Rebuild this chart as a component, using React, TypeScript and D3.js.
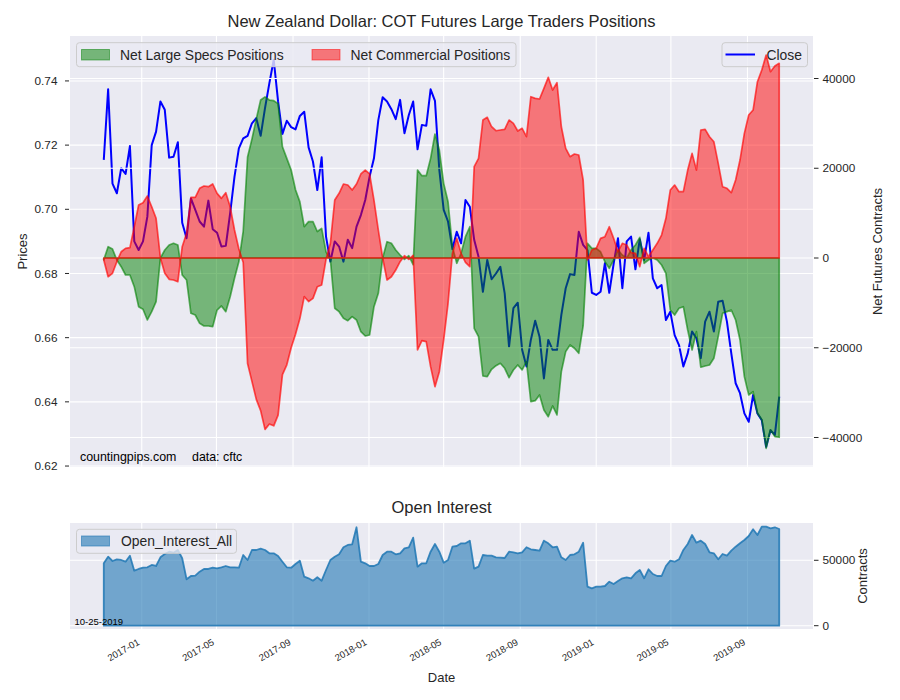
import React from "react";
import * as d3 from "d3";

// ---------- DATA ----------
const START_DATE = new Date(2016, 10, 1); // weekly COT report dates (Tuesdays)
const RELEASE_LABEL = "10-25-2019";

const closePrices = [
  0.7154, 0.7374, 0.708, 0.705, 0.7128, 0.711, 0.7197, 0.69, 0.6873, 0.69,
  0.6977, 0.72, 0.7242, 0.7336, 0.731, 0.7161, 0.7164, 0.7209, 0.6958, 0.691,
  0.7034, 0.6998, 0.6962, 0.6946, 0.7027, 0.6938, 0.6927, 0.6884, 0.6886, 0.6988,
  0.7102, 0.719, 0.7221, 0.7229, 0.7268, 0.7284, 0.7229, 0.7315, 0.7393, 0.7466,
  0.7336, 0.7235, 0.7276, 0.7256, 0.7249, 0.7291, 0.7304, 0.7193, 0.7149, 0.706,
  0.7162, 0.6915, 0.6837, 0.69, 0.6884, 0.6837, 0.6905, 0.6879, 0.6946, 0.6982,
  0.7029, 0.7102, 0.7159, 0.7278, 0.7349, 0.7336, 0.7312, 0.7281, 0.7341, 0.7237,
  0.7294, 0.7336, 0.7187, 0.7263, 0.726, 0.7374, 0.7338, 0.7123, 0.6998, 0.6962,
  0.6876, 0.693, 0.6894, 0.7029, 0.7008, 0.6905, 0.6852, 0.6743, 0.6842, 0.6782,
  0.68, 0.6821, 0.6738, 0.6572, 0.6692, 0.6709, 0.6562, 0.651, 0.6593, 0.6653,
  0.6603, 0.6473, 0.6593, 0.6562, 0.6562, 0.6671, 0.6754, 0.6798, 0.6795, 0.693,
  0.6889, 0.6873, 0.674, 0.6733, 0.6743, 0.6832, 0.674, 0.683, 0.691, 0.6754,
  0.69, 0.6915, 0.6813, 0.6907, 0.6842, 0.6927, 0.6785, 0.6754, 0.6764, 0.6655,
  0.6681, 0.6608, 0.6577, 0.651, 0.6551, 0.6619, 0.6598, 0.6536, 0.665, 0.6681,
  0.6619, 0.6712, 0.6715, 0.665, 0.6551, 0.6458, 0.6427, 0.6364, 0.6338, 0.6421,
  0.6364, 0.6343, 0.626, 0.6312, 0.6297, 0.6416,
];

const netLargeSpecs = [
  -400, 2520, 2000, -450, -1930, -3790, -3790, -6390, -10850, -11430,
  -13810, -11960, -9740, 0, 1780, 2900, 3270, 2900, -3800, -4900,
  -12320, -12700, -14550, -15150, -15150, -15300, -11590, -10690, -11960, -8620,
  -4520, -800, 6000, 22500, 26500, 31000, 35200, 35900, 35200, 35050,
  34400, 24800, 22200, 19600, 15200, 12500, 7000, 8100, 8100, 5900,
  6600, 1400, -300, -11200, -11960, -13440, -13960, -13070, -13810, -16420,
  -17380, -17150, -10850, -7870, 0, 3630, 3270, 1780, 670, -300,
  500, -1500, 19600, 18340, 18340, 22210, 27630, 24060, 16640, 12540,
  2520, -1180, 1050, 4750, 6970, -15660, -17530, -26290, -26440, -24800,
  -24000, -23460, -24580, -26660, -24950, -23840, -24950, -23100, -32020, -31790,
  -30520, -33870, -35360, -32970, -34980, -25330, -20870, -19380, -20120, -21230,
  -15150, 3270, 2160, 2160, 1400, -820, -2300, -450, 1780, 670,
  0, 1780, 2900, 4600, -1180, -450, 0, -450, -1560, -3410,
  -11590, -12700, -11210, -10850, -16040, -20500, -16420, -24350, -24060, -23840,
  -22350, -17530, -12320, -11960, -11590, -13810, -18270, -26440, -30520, -29780,
  -34610, -36100, -42410, -38320, -39810, -39950,
];

const netCommercial = [
  -445, -4170, -3410, -820, 1400, 2160, 2300, 6970, 11810, 12320,
  13810, 11430, 8850, 0, -3410, -4750, -4900, -5280, 2520, 5500,
  13520, 13520, 15530, 16040, 15890, 16490, 14410, 13300, 14550, 11430,
  6240, 2000, -1000, -23500, -27500, -31500, -34000, -38200, -37000, -37400,
  -35000, -26000, -23800, -20000, -17000, -13500, -8600, -9700, -9000, -6400,
  -6000, -300, 3270, 12920, 14410, 16490, 16260, 15150, 16490, 18720,
  19600, 18720, 12920, 6240, 0, -4900, -4170, -2670, -820, 500,
  -300, 600, -20500, -18420, -18650, -24210, -28670, -25330, -18270, -10090,
  1000, 4380, 1050, -1000, -1930, 20340, 22210, 30750, 31350, 29250,
  28360, 28520, 28670, 30750, 30010, 28300, 28900, 27030, 35940, 35580,
  35430, 37810, 40260, 37430, 39060, 29250, 24440, 22570, 23170, 22950,
  17380, -445, 1780, 2160, 4380, 4750, 6970, 4380, 1400, 3270,
  2900, 1180, 1050, -1930, 2160, 300, 1780, 3270, 5120, 8850,
  15150, 16260, 14780, 14780, 19600, 23320, 19600, 28520, 28670, 27030,
  25920, 21100, 15890, 15530, 14550, 17380, 21830, 27780, 31860, 32970,
  39280, 41890, 45230, 41510, 42780, 43380,
];

const openInterest = [
  47700, 52750, 49460, 50760, 50230, 48930, 53520, 42050, 43350, 44340,
  44650, 46400, 45640, 52290, 54810, 56570, 55810, 57870, 51530, 35470,
  38000, 38230, 41280, 43350, 43350, 44340, 43880, 44650, 45640, 44650,
  44650, 44340, 54050, 50230, 57870, 57870, 58870, 57870, 55350, 55350,
  53290, 48930, 44650, 44340, 47170, 49690, 37460, 36240, 34400, 37000,
  34400, 42580, 50230, 52750, 54590, 59940, 61700, 62230, 75230, 48930,
  47700, 45640, 45640, 47170, 54050, 56570, 56570, 54590, 55350, 59170,
  59940, 67280, 45110, 47700, 47700, 56570, 62460, 56570, 48160, 50230,
  60400, 60930, 62990, 62990, 64980, 43620, 45110, 54050, 53520, 53520,
  52290, 51990, 51760, 56570, 56110, 55350, 56110, 59940, 58410, 57870,
  57340, 64980, 62990, 59940, 60400, 52290, 50230, 54050, 54590, 56570,
  63450, 29820, 28590, 29820, 29820, 30350, 33640, 31880, 34170, 36240,
  37000, 36240, 40060, 42580, 36240, 43120, 39520, 38000, 38000, 45640,
  49690, 48930, 50760, 57870, 62460, 69340, 63450, 64980, 62460, 56110,
  55350, 50760, 54810, 53520, 57340, 60400, 62990, 65520, 68580, 73700,
  69340, 75690, 75690, 74460, 75230, 73930,
];

const priceTicks = [0.62, 0.64, 0.66, 0.68, 0.7, 0.72, 0.74];
const netTicks = [-40000, -20000, 0, 20000, 40000];
const oiTicks = [0, 50000];

// ---------- LAYOUT ----------
const W = 900;
const H = 700;
const L = 70;
const R = 813;
const T1 = 36;
const B1 = 467;
const T2 = 523;
const B2 = 629;
const FONT = "'Liberation Sans', Arial, 'DejaVu Sans', sans-serif";
const TXT = "#262626";
const BG = "#EAEAF2";

const fmtMinus = (v: number) => (v < 0 ? "\u2212" + Math.abs(v) : String(v));

export default function App() {
  const dates = closePrices.map((_, i) => d3.timeDay.offset(START_DATE, 7 * i));
  const t0 = +dates[0];
  const t1 = +dates[dates.length - 1];
  const pad = (t1 - t0) * 0.05;

  const x = d3.scaleTime().domain([new Date(t0 - pad), new Date(t1 + pad)]).range([L, R]);
  const yP = d3.scaleLinear().domain([0.6197, 0.754]).range([B1, T1]);
  const yN = d3.scaleLinear().domain([-46574, 49471]).range([B1, T1]);
  const yO = d3.scaleLinear().domain([-2520, 78500]).range([B2, T2]);

  const xTicks = x.ticks(d3.timeMonth.every(4) as any);
  const fmtDate = d3.timeFormat("%Y-%m");

  const closeLine = d3
    .line<number>()
    .x((_, i) => x(dates[i]))
    .y((d) => yP(d))(closePrices) as string;

  const netArea = (vals: number[]) =>
    d3
      .area<number>()
      .x((_, i) => x(dates[i]))
      .y0(yN(0))
      .y1((d) => yN(d))(vals) as string;

  const oiArea = d3
    .area<number>()
    .x((_, i) => x(dates[i]))
    .y0(yO(0))
    .y1((d) => yO(d))(openInterest) as string;

  const grid = { stroke: "#ffffff", strokeWidth: 1.1 };

  return (
    <svg
      width={W}
      height={H}
      style={{ position: "absolute", left: 0, top: 0, background: "#fff" }}
      fontFamily={FONT}
    >
      <defs>
        <clipPath id="clipTop">
          <rect x={L} y={T1} width={R - L} height={B1 - T1} />
        </clipPath>
        <clipPath id="clipBot">
          <rect x={L} y={T2} width={R - L} height={B2 - T2} />
        </clipPath>
      </defs>

      {/* ---------- TOP PANEL ---------- */}
      <text x={(L + R) / 2} y={27} textAnchor="middle" fontSize={16.5} fill={TXT}>
        New Zealand Dollar: COT Futures Large Traders Positions
      </text>
      <rect x={L} y={T1} width={R - L} height={B1 - T1} fill={BG} />
      <g clipPath="url(#clipTop)">
        {priceTicks.map((t) => (
          <line key={"pg" + t} x1={L} x2={R} y1={yP(t)} y2={yP(t)} {...grid} />
        ))}
        {xTicks.map((t) => (
          <line key={"xg" + +t} x1={x(t)} x2={x(t)} y1={T1} y2={B1} {...grid} />
        ))}
        <path d={closeLine} fill="none" stroke="#0000FF" strokeWidth={2} strokeLinejoin="round" />
      </g>

      {/* Close legend (price axis) */}
      <g>
        <rect x={722} y={42.7} width={85.5} height={24} rx={3} fill={BG} fillOpacity={0.8} stroke="#cccccc" strokeWidth={1} />
        <line x1={725.5} x2={755} y1={54.5} y2={54.5} stroke="#0000FF" strokeWidth={2} />
        <text x={766.5} y={54.7} dy="0.35em" fontSize={13.9} fill={TXT}>
          Close
        </text>
      </g>

      <g clipPath="url(#clipTop)">
        {netTicks.map((t) => (
          <line key={"ng" + t} x1={L} x2={R} y1={yN(t)} y2={yN(t)} {...grid} />
        ))}
        <path d={netArea(netLargeSpecs)} fill="#008000" fillOpacity={0.5} stroke="#008000" strokeOpacity={0.6} strokeWidth={1.7} strokeLinejoin="round" />
        <path d={netArea(netCommercial)} fill="#FF0000" fillOpacity={0.5} stroke="#FF0000" strokeOpacity={0.65} strokeWidth={1.7} strokeLinejoin="round" />
      </g>

      {/* Positions legend */}
      <g>
        <rect x={76.5} y={42.7} width={439.5} height={24} rx={3} fill={BG} fillOpacity={0.8} stroke="#cccccc" strokeWidth={1} />
        <rect x={81.5} y={49.5} width={28} height={10.5} fill="#008000" fillOpacity={0.5} stroke="#008000" strokeOpacity={0.5} />
        <text x={120} y={54.7} dy="0.35em" fontSize={13.9} fill={TXT}>
          Net Large Specs Positions
        </text>
        <rect x={312} y={49.5} width={28} height={10.5} fill="#FF0000" fillOpacity={0.5} stroke="#FF0000" strokeOpacity={0.5} />
        <text x={350.5} y={54.7} dy="0.35em" fontSize={13.9} fill={TXT}>
          Net Commercial Positions
        </text>
      </g>

      <text x={80} y={461} fontSize={12.4} fill="#000">
        countingpips.com
      </text>
      <text x={192} y={461} fontSize={12.4} fill="#000">
        data: cftc
      </text>

      {/* left price axis */}
      {priceTicks.map((t) => (
        <g key={"pt" + t}>
          <line x1={65} x2={69} y1={yP(t)} y2={yP(t)} stroke={TXT} strokeWidth={1} />
          <text x={57.5} y={yP(t)} dy="0.35em" textAnchor="end" fontSize={11.8} fill={TXT}>
            {t.toFixed(2)}
          </text>
        </g>
      ))}
      <text transform={`translate(27,${(T1 + B1) / 2}) rotate(-90)`} textAnchor="middle" fontSize={13} fill={TXT}>
        Prices
      </text>

      {/* right net axis */}
      {netTicks.map((t) => (
        <g key={"nt" + t}>
          <line x1={814} x2={818.5} y1={yN(t)} y2={yN(t)} stroke={TXT} strokeWidth={1} />
          <text x={822.5} y={yN(t)} dy="0.35em" fontSize={11.8} fill={TXT}>
            {fmtMinus(t)}
          </text>
        </g>
      ))}
      <text transform={`translate(882,${(T1 + B1) / 2}) rotate(-90)`} textAnchor="middle" fontSize={13} fill={TXT}>
        Net Futures Contracts
      </text>

      {/* ---------- BOTTOM PANEL ---------- */}
      <text x={(L + R) / 2} y={513} textAnchor="middle" fontSize={16.5} fill={TXT}>
        Open Interest
      </text>
      <rect x={L} y={T2} width={R - L} height={B2 - T2} fill={BG} />
      <g clipPath="url(#clipBot)">
        {oiTicks.map((t) => (
          <line key={"og" + t} x1={L} x2={R} y1={yO(t)} y2={yO(t)} {...grid} />
        ))}
        {xTicks.map((t) => (
          <line key={"xg2" + +t} x1={x(t)} x2={x(t)} y1={T2} y2={B2} {...grid} />
        ))}
        <path d={oiArea} fill="#1f77b4" fillOpacity={0.6} stroke="#1f77b4" strokeOpacity={0.85} strokeWidth={1.8} strokeLinejoin="round" />
      </g>
      <g>
        <rect x={76.5} y={529.3} width={160} height={24} rx={3} fill={BG} fillOpacity={0.8} stroke="#cccccc" strokeWidth={1} />
        <rect x={81.5} y={536} width={28} height={10} fill="#1f77b4" fillOpacity={0.6} stroke="#1f77b4" strokeOpacity={0.6} />
        <text x={121} y={541.3} dy="0.35em" fontSize={13.9} fill={TXT}>
          Open_Interest_All
        </text>
      </g>
      <text x={74.5} y={625} fontSize={9.5} fill="#000">
        {RELEASE_LABEL}
      </text>

      {oiTicks.map((t) => (
        <g key={"ot" + t}>
          <line x1={814} x2={818.5} y1={yO(t)} y2={yO(t)} stroke={TXT} strokeWidth={1} />
          <text x={822.5} y={yO(t)} dy="0.35em" fontSize={11.8} fill={TXT}>
            {t}
          </text>
        </g>
      ))}
      <text transform={`translate(867,${(T2 + B2) / 2}) rotate(-90)`} textAnchor="middle" fontSize={13} fill={TXT}>
        Contracts
      </text>

      {/* x axis */}
      {xTicks.map((t) => (
        <text
          key={"xl" + +t}
          transform={`translate(${x(t) - 1.5},644) rotate(-30)`}
          textAnchor="end"
          fontSize={9.5}
          fill={TXT}
        >
          {fmtDate(t)}
        </text>
      ))}
      <text x={(L + R) / 2} y={682} textAnchor="middle" fontSize={13} fill={TXT}>
        Date
      </text>
    </svg>
  );
}
